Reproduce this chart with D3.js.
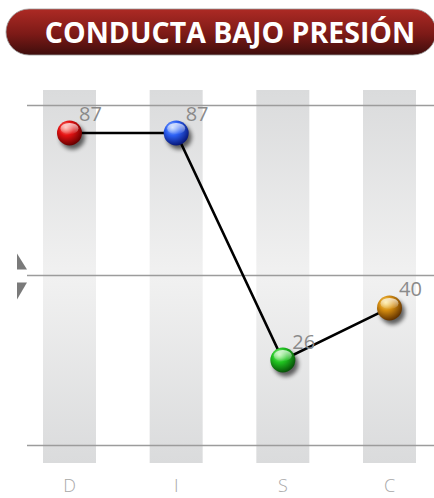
<!DOCTYPE html>
<html>
<head>
<meta charset="utf-8">
<script src="https://cdn.jsdelivr.net/npm/d3@7"></script>
<style>
  html, body { margin: 0; padding: 0; background: #fff; }
  svg { display: block; }
</style>
</head>
<body>
<svg id="chart" width="434" height="498"></svg>
<script>
// DISC profile values
const title = "CONDUCTA BAJO PRESIÓN";
const categories = ["D", "I", "S", "C"];
const values = [87, 87, 26, 40];
const ballColors = [
  { light: "#ffa090", base: "#e41212", dark: "#6a0000" },
  { light: "#b0ccff", base: "#2c60f4", dark: "#08187a" },
  { light: "#b0f8a0", base: "#20c420", dark: "#085408" },
  { light: "#ffe680", base: "#d48c10", dark: "#643400" }
];

const W = 434, H = 498;
const svg = d3.select("#chart");
const defs = svg.append("defs");

// scales
const x = d3.scalePoint().domain(categories).range([69.5, 389.5]);
const y = d3.scaleLinear().domain([0, 100]).range([456.8, 84.6]);
const frame = d3.scaleLinear().domain([0, 1]).range([445.5, 105.5]);
const barW = 53, barTop = 90, barBottom = 463;

// --- title pill ---
const tg = defs.append("linearGradient").attr("id", "titleGrad")
  .attr("x1", 0).attr("y1", 0).attr("x2", 0).attr("y2", 1);
tg.append("stop").attr("offset", "0%").attr("stop-color", "#ad2a24");
tg.append("stop").attr("offset", "55%").attr("stop-color", "#7c1a17");
tg.append("stop").attr("offset", "100%").attr("stop-color", "#3e0d0c");

svg.append("rect")
  .attr("x", 6).attr("y", 9).attr("width", 430).attr("height", 46)
  .attr("rx", 23).attr("ry", 23)
  .attr("fill", "url(#titleGrad)")
  .attr("stroke", "#9a9a9a").attr("stroke-width", 0.8);

svg.append("text")
  .attr("x", 230).attr("y", 43)
  .attr("text-anchor", "middle")
  .attr("font-family", "'Open Sans', sans-serif")
  .attr("font-weight", 700)
  .attr("font-size", 28.5)
  .attr("fill", "#ffffff")
  .text(title);

// --- background bands ---
const bg = defs.append("linearGradient").attr("id", "bandGrad")
  .attr("x1", 0).attr("y1", 0).attr("x2", 0).attr("y2", 1);
bg.append("stop").attr("offset", "0%").attr("stop-color", "#dadbdc");
bg.append("stop").attr("offset", "50%").attr("stop-color", "#f1f1f1");
bg.append("stop").attr("offset", "100%").attr("stop-color", "#dadbdc");

svg.append("g").selectAll("rect")
  .data(categories).join("rect")
  .attr("x", d => x(d) - barW / 2)
  .attr("y", barTop)
  .attr("width", barW)
  .attr("height", barBottom - barTop)
  .attr("fill", "url(#bandGrad)");

// --- horizontal guide lines ---
svg.append("g").selectAll("line")
  .data([0, 0.5, 1]).join("line")
  .attr("x1", 27).attr("x2", W)
  .attr("y1", d => frame(d)).attr("y2", d => frame(d))
  .attr("stroke", "#9c9c9c").attr("stroke-width", 1.6);

// midline markers
const mid = frame(0.5);
svg.append("path")
  .attr("d", `M17,${mid - 22} L17,${mid - 6} L27,${mid - 6} Z`)
  .attr("fill", "#7a7a7a");
svg.append("path")
  .attr("d", `M17,${mid + 7} L27,${mid + 7} L17,${mid + 24} Z`)
  .attr("fill", "#7a7a7a");

// --- category labels ---
svg.append("g").selectAll("text")
  .data(categories).join("text")
  .attr("x", d => x(d))
  .attr("y", 492)
  .attr("text-anchor", "middle")
  .attr("font-family", "'Open Sans', sans-serif")
  .attr("font-weight", 300)
  .attr("font-size", 18)
  .attr("fill", "#a8a8a8")
  .text(d => d);

// --- connecting line ---
const pts = categories.map((c, i) => [x(c), y(values[i])]);
svg.append("path")
  .attr("d", d3.line()(pts))
  .attr("fill", "none")
  .attr("stroke", "#000")
  .attr("stroke-width", 2.6);

// --- value labels ---
svg.append("g").selectAll("text")
  .data(values).join("text")
  .attr("x", (d, i) => x(categories[i]) + 9.5)
  .attr("y", d => y(d) - 11.5)
  .attr("font-family", "'Open Sans', sans-serif")
  .attr("font-size", 20)
  .attr("fill", "#8a8a8a")
  .text(d => d);

// --- spheres ---
const shadow = defs.append("filter").attr("id", "shadow")
  .attr("x", "-50%").attr("y", "-50%").attr("width", "200%").attr("height", "200%");
shadow.append("feGaussianBlur").attr("stdDeviation", 2.2);

ballColors.forEach((c, i) => {
  const g = defs.append("radialGradient").attr("id", "ball" + i)
    .attr("cx", "40%").attr("cy", "35%").attr("r", "65%")
    .attr("fx", "35%").attr("fy", "28%");
  g.append("stop").attr("offset", "0%").attr("stop-color", c.light);
  g.append("stop").attr("offset", "45%").attr("stop-color", c.base);
  g.append("stop").attr("offset", "100%").attr("stop-color", c.dark);
});
const gloss = defs.append("linearGradient").attr("id", "gloss")
  .attr("x1", 0).attr("y1", 0).attr("x2", 0).attr("y2", 1);
gloss.append("stop").attr("offset", "0%").attr("stop-color", "#fff").attr("stop-opacity", 0.75);
gloss.append("stop").attr("offset", "100%").attr("stop-color", "#fff").attr("stop-opacity", 0.05);

const r = 12.5;
const balls = svg.append("g").selectAll("g")
  .data(values).join("g")
  .attr("transform", (d, i) => `translate(${x(categories[i])},${y(d)})`);

balls.append("circle")
  .attr("cx", 3).attr("cy", 4).attr("r", r)
  .attr("fill", "#000").attr("opacity", 0.6)
  .attr("filter", "url(#shadow)");
balls.append("circle")
  .attr("r", r)
  .attr("fill", (d, i) => `url(#ball${i})`);
balls.append("ellipse")
  .attr("cx", 0).attr("cy", -4.5).attr("rx", 9).attr("ry", 5.5)
  .attr("fill", "url(#gloss)");
</script>
</body>
</html>
